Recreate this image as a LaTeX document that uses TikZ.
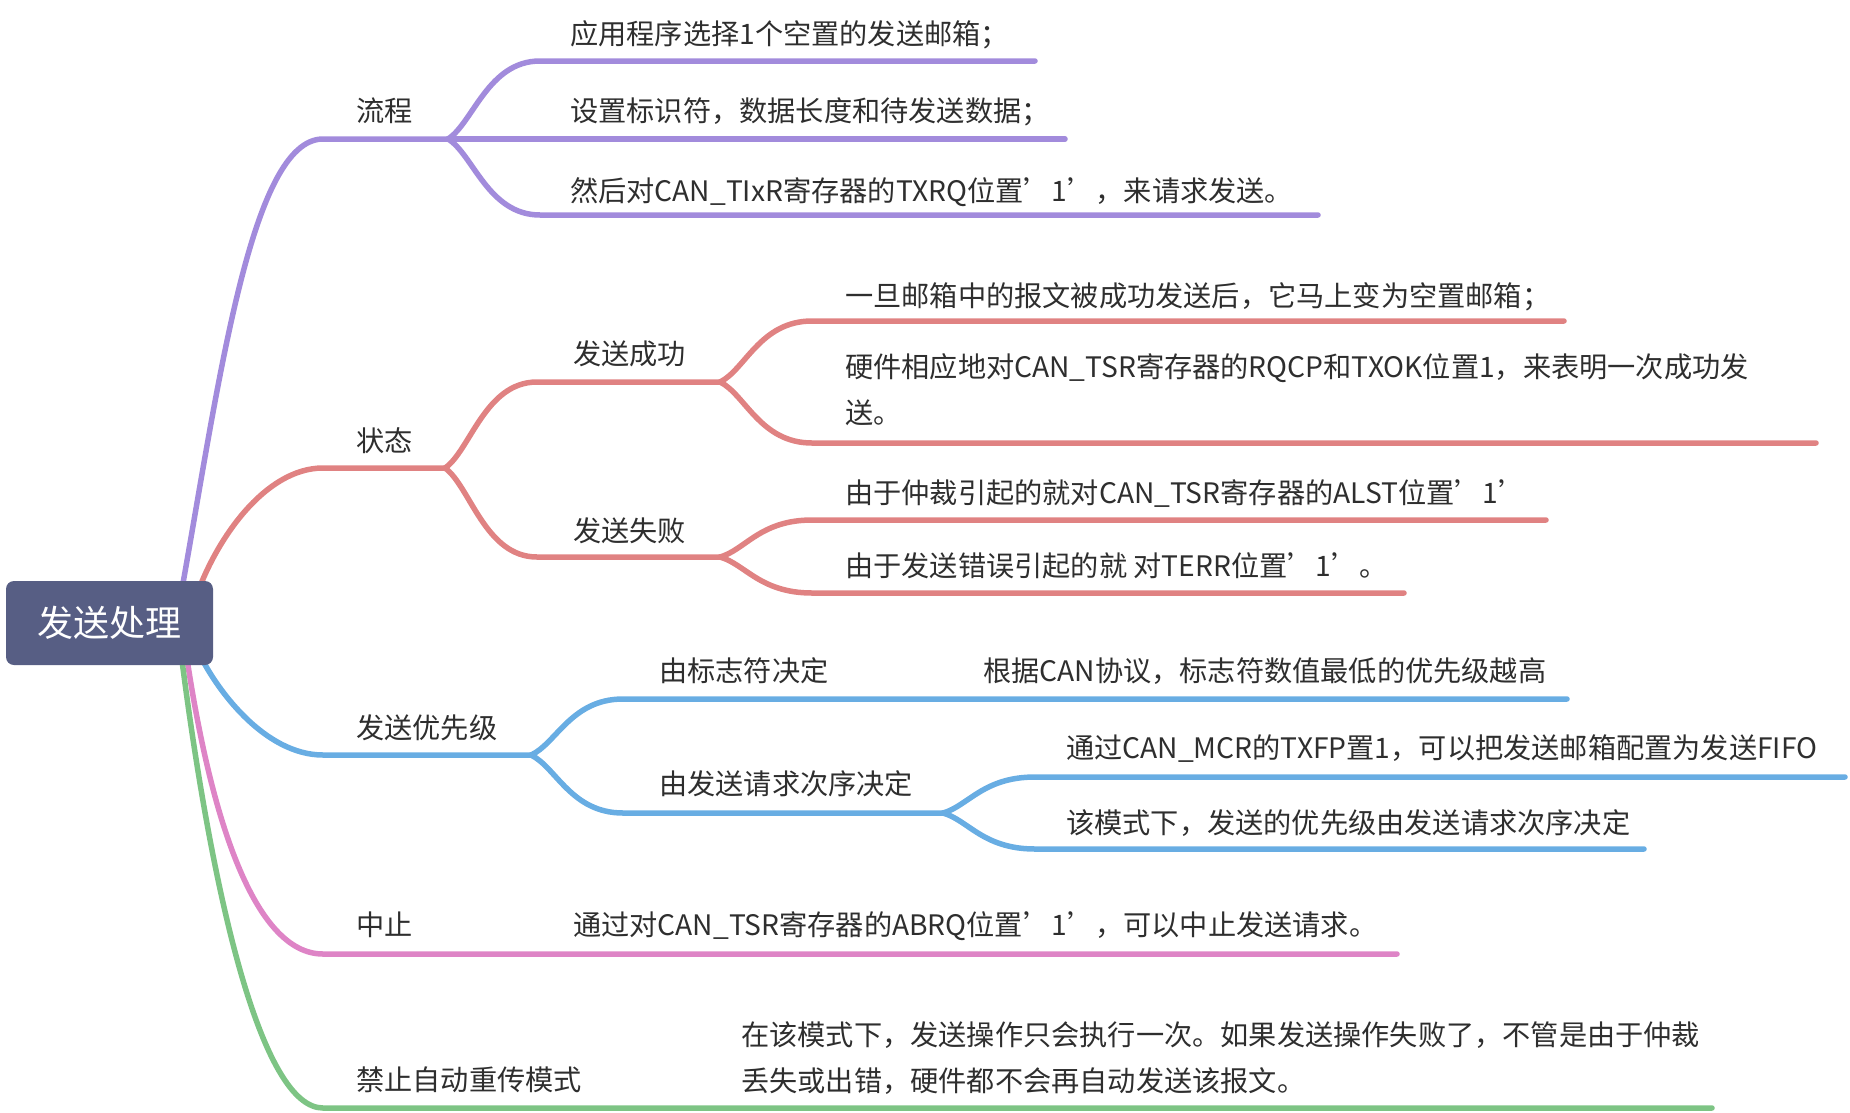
\documentclass[tikz,border=0pt]{standalone}
\usepackage{fontspec}
\setmainfont{Noto Sans CJK SC}
\definecolor{cpur}{HTML}{A28BDC}
\definecolor{cred}{HTML}{E08282}
\definecolor{cblu}{HTML}{68ADE3}
\definecolor{cpnk}{HTML}{DE84C6}
\definecolor{cgrn}{HTML}{7DC484}
\definecolor{croot}{HTML}{575E84}
\definecolor{txt}{HTML}{2E2E2E}
\begin{document}
\begin{tikzpicture}[x=1pt,y=-1pt,
  conn/.style={line width=5.5pt, line cap=round},
  lbl/.style={anchor=base west, inner sep=0pt, text=txt, font=\fontsize{28.2}{46}\selectfont, align=left},
  mlbl/.style={anchor=north west, inner sep=0pt, text=txt, font=\fontsize{28.2}{46}\selectfont, align=left},
  rootbox/.style={fill=croot, rounded corners=8pt, text=white, font=\fontsize{36}{40}\selectfont, minimum width=207pt, minimum height=84pt, inner sep=0pt}]
\useasboundingbox (0,0) rectangle (1850,1112);

% ---------- coordinates ----------
\coordinate (s1) at (180,600);
\coordinate (s2) at (195,600);
\coordinate (s3) at (195,645);
\coordinate (s4) at (185,645);
\coordinate (s5) at (180,645);
% purple
\coordinate (h1) at (323,139);  \coordinate (b1) at (448,139);
\coordinate (p1a) at (540,61);  \coordinate (p1e) at (1035,61);
\coordinate (p2e) at (1065,139);
\coordinate (p3a) at (540,215); \coordinate (p3e) at (1318,215);
% red
\coordinate (h2) at (323,468);  \coordinate (b2) at (445,468);
\coordinate (r1a) at (537,382); \coordinate (b21) at (720,382);
\coordinate (r2a) at (537,557); \coordinate (b22) at (720,557);
\coordinate (r11a) at (812,321); \coordinate (r11e) at (1564,321);
\coordinate (r12a) at (812,443); \coordinate (r12e) at (1816,443);
\coordinate (r21a) at (812,520); \coordinate (r21e) at (1546,520);
\coordinate (r22a) at (812,593); \coordinate (r22e) at (1404,593);
% blue
\coordinate (h3) at (323,755);  \coordinate (b3) at (531,755);
\coordinate (u1a) at (623,699); \coordinate (u1m) at (960,699); \coordinate (u1e) at (1567,699);
\coordinate (u2a) at (623,813); \coordinate (b32) at (943,813);
\coordinate (u21a) at (1035,777); \coordinate (u21e) at (1845,777);
\coordinate (u22a) at (1035,849); \coordinate (u22e) at (1644,849);
% pink
\coordinate (h4) at (323,954); \coordinate (k4) at (550,954); \coordinate (e4) at (1397,954);
% green
\coordinate (h5) at (323,1108); \coordinate (k5) at (720,1108); \coordinate (e5) at (1712,1108);

% ---------- connectors ----------
\draw[conn, cpur] (s1) .. controls (218,390) and (250,139) .. (h1) -- (b1);
\draw[conn, cpur] (b1) .. controls (473,123) and (488,61) .. (p1a) -- (p1e);
\draw[conn, cpur] (b1) -- (p2e);
\draw[conn, cpur] (b1) .. controls (473,154) and (488,215) .. (p3a) -- (p3e);

\draw[conn, cred] (s2) .. controls (215,540) and (265,468) .. (h2) -- (b2);
\draw[conn, cred] (b2) .. controls (470,451) and (485,382) .. (r1a) -- (b21);
\draw[conn, cred] (b2) .. controls (470,486) and (485,557) .. (r2a) -- (b22);
\draw[conn, cred] (b21) .. controls (745,370) and (760,321) .. (r11a) -- (r11e);
\draw[conn, cred] (b21) .. controls (745,394) and (760,443) .. (r12a) -- (r12e);
\draw[conn, cred] (b22) .. controls (745,550) and (760,520) .. (r21a) -- (r21e);
\draw[conn, cred] (b22) .. controls (745,564) and (760,593) .. (r22a) -- (r22e);

\draw[conn, cblu] (s3) .. controls (215,690) and (265,755) .. (h3) -- (b3);
\draw[conn, cblu] (b3) .. controls (556,744) and (571,699) .. (u1a) -- (u1m) -- (u1e);
\draw[conn, cblu] (b3) .. controls (556,767) and (571,813) .. (u2a) -- (b32);
\draw[conn, cblu] (b32) .. controls (968,806) and (983,777) .. (u21a) -- (u21e);
\draw[conn, cblu] (b32) .. controls (968,820) and (983,849) .. (u22a) -- (u22e);

\draw[conn, cpnk] (s4) .. controls (210,820) and (255,954) .. (h4) -- (k4) -- (e4);
\draw[conn, cgrn] (s5) .. controls (212,900) and (262,1108) .. (h5) -- (k5) -- (e5);

% ---------- root ----------
\node[rootbox] (root) at (109.5,623) {发送处理};

% ---------- labels ----------
\node[lbl] (liucheng) at (356,121) {流程};
\node[lbl] (t11) at (570,44) {应用程序选择1个空置的发送邮箱；};
\node[lbl] (t12) at (570,121) {设置标识符，数据长度和待发送数据；};
\node[lbl] (t13) at (570,201) {然后对CAN\_TIxR寄存器的TXRQ位置’1’，来请求发送。};

\node[lbl] (zhuangtai) at (356,451) {状态};
\node[lbl] (succ) at (573,364) {发送成功};
\node[lbl] (fail) at (573,541) {发送失败};
\node[lbl] (t211) at (845,306) {一旦邮箱中的报文被成功发送后，它马上变为空置邮箱；};
\node[mlbl] (t212) at (845,353) {硬件相应地对CAN\_TSR寄存器的RQCP和TXOK位置1，来表明一次成功发\\送。};
\node[lbl] (t221) at (845,503) {由于仲裁引起的就对CAN\_TSR寄存器的ALST位置’1’};
\node[lbl] (t222) at (845,576) {由于发送错误引起的就 对TERR位置’1’。};

\node[lbl] (prio) at (356,738) {发送优先级};
\node[lbl] (byid) at (659,681) {由标志符决定};
\node[lbl] (t31) at (983,681) {根据CAN协议，标志符数值最低的优先级越高};
\node[lbl] (byreq) at (659,794) {由发送请求次序决定};
\node[lbl] (t321) at (1066,758) {通过CAN\_MCR的TXFP置1，可以把发送邮箱配置为发送FIFO};
\node[lbl] (t322) at (1066,833) {该模式下，发送的优先级由发送请求次序决定};

\node[lbl] (abort) at (356,935) {中止};
\node[lbl] (t4) at (573,935) {通过对CAN\_TSR寄存器的ABRQ位置’1’，可以中止发送请求。};

\node[lbl] (noretx) at (356,1090) {禁止自动重传模式};
\node[mlbl] (t5) at (741,1021) {在该模式下，发送操作只会执行一次。如果发送操作失败了，不管是由于仲裁\\丢失或出错，硬件都不会再自动发送该报文。};
\end{tikzpicture}
\end{document}
